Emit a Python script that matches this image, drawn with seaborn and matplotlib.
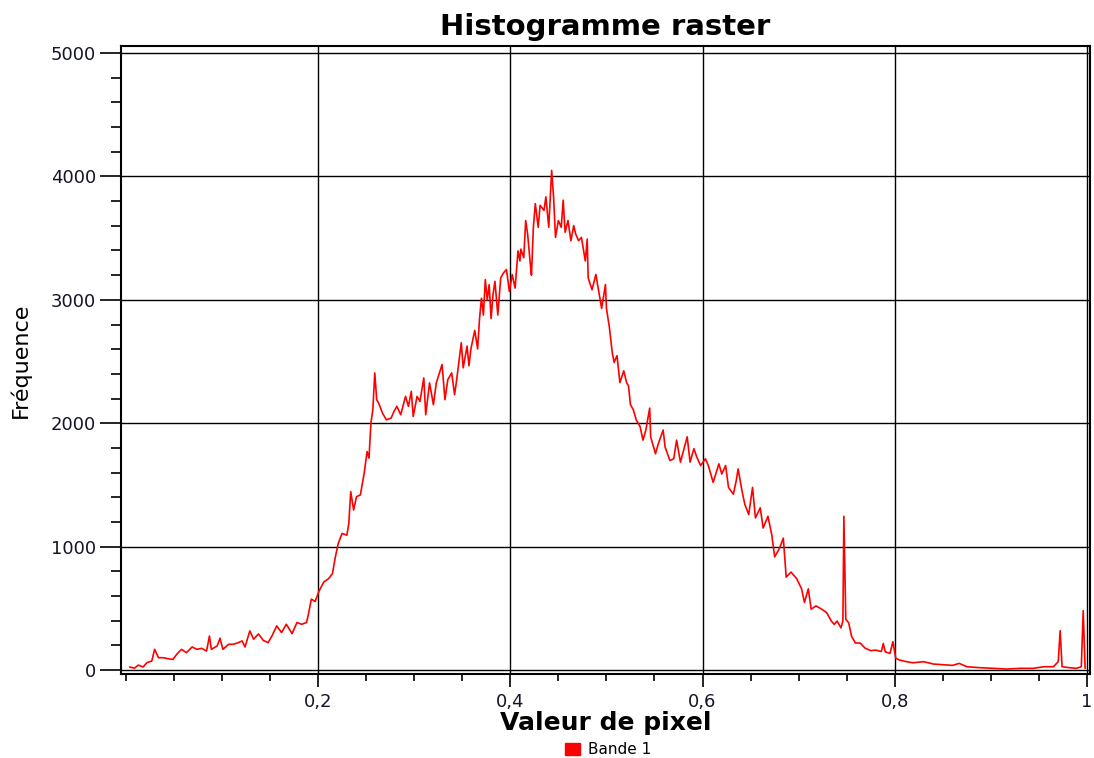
import numpy as np
import pandas as pd
import matplotlib
matplotlib.use("Agg")
import matplotlib.pyplot as plt
import seaborn as sns
from matplotlib.ticker import MultipleLocator, FixedLocator

# valeurs (valeur de pixel / fréquence)
valeur = [0.004, 0.009, 0.013, 0.018, 0.022, 0.027, 0.030, 0.034, 0.039, 0.044,
          0.049, 0.053, 0.058, 0.063, 0.069, 0.074, 0.079, 0.084, 0.087, 0.089,
          0.095, 0.098, 0.101, 0.107, 0.112, 0.117, 0.121, 0.124, 0.129, 0.133,
          0.138, 0.143, 0.148, 0.152, 0.157, 0.162, 0.167, 0.173, 0.178, 0.183,
          0.188, 0.190, 0.193, 0.197,
          0.201, 0.206, 0.211, 0.215, 0.218, 0.221, 0.225, 0.230, 0.232, 0.234,
          0.237, 0.240, 0.244, 0.248, 0.251, 0.253, 0.255, 0.257, 0.259, 0.261,
          0.263, 0.267, 0.271, 0.276, 0.279, 0.282, 0.286, 0.291, 0.294, 0.297,
          0.299, 0.303, 0.306, 0.310, 0.312, 0.316, 0.320, 0.323, 0.329, 0.332,
          0.335, 0.339, 0.342, 0.344, 0.349, 0.351, 0.355,
          0.357, 0.359, 0.363, 0.366, 0.368, 0.370, 0.372, 0.374, 0.376, 0.378,
          0.380, 0.382, 0.384, 0.387, 0.390, 0.393, 0.396, 0.399, 0.402, 0.405,
          0.408, 0.410, 0.411, 0.414, 0.416, 0.418, 0.421, 0.422, 0.424, 0.426,
          0.429, 0.431, 0.435, 0.437, 0.440, 0.442, 0.443, 0.445, 0.447, 0.450,
          0.453, 0.455, 0.457, 0.460, 0.463, 0.466, 0.468, 0.471, 0.474, 0.478,
          0.480, 0.481, 0.485, 0.489, 0.492, 0.495, 0.499, 0.500, 0.503, 0.506,
          0.508, 0.511, 0.514, 0.518, 0.521, 0.523, 0.525, 0.528, 0.531, 0.535,
          0.538, 0.541, 0.545, 0.546, 0.551, 0.554, 0.559, 0.561, 0.566, 0.570,
          0.573, 0.577, 0.584, 0.587, 0.591, 0.594, 0.598, 0.603, 0.606, 0.611,
          0.617, 0.620, 0.624, 0.627, 0.632, 0.635, 0.637, 0.641, 0.644, 0.648,
          0.652, 0.655, 0.660, 0.663, 0.668, 0.672, 0.675, 0.680, 0.684, 0.687,
          0.692, 0.698, 0.703, 0.706, 0.710, 0.713, 0.718, 0.724, 0.729, 0.734,
          0.737, 0.740, 0.744, 0.746, 0.747, 0.749, 0.752, 0.755, 0.759, 0.764,
          0.769, 0.775, 0.780, 0.786, 0.788, 0.790, 0.795, 0.798, 0.801, 0.805,
          0.812, 0.819, 0.830, 0.840, 0.854, 0.860, 0.867, 0.875, 0.889, 0.903,
          0.916, 0.930, 0.944, 0.955, 0.965, 0.970, 0.972, 0.974, 0.982, 0.989,
          0.994, 0.996, 0.998]

frequence = [25, 15, 40, 25, 60, 73, 168, 100, 100, 92,
             86, 128, 168, 141, 187, 168, 176, 154, 276, 168,
             195, 258, 168, 209, 209, 222, 236, 187, 317, 250,
             293, 241, 222, 276, 358, 304, 371, 295, 385, 371,
             385, 453, 575, 556,
             640, 714, 741, 782, 917, 1026, 1107, 1093, 1189, 1446,
             1297, 1405, 1419, 1595, 1771, 1717, 2002, 2110, 2408, 2191,
             2164, 2083, 2028, 2042, 2096, 2137, 2069, 2218, 2137, 2259,
             2055, 2218, 2177, 2367, 2069, 2327, 2150, 2327, 2476, 2191,
             2354, 2408, 2232, 2340, 2652, 2449, 2625,
             2466, 2602, 2753, 2602, 2849, 3013, 2877, 3164, 3000, 3123,
             2849, 3041, 3150, 2877, 3178, 3219, 3246, 3068, 3205, 3095,
             3397, 3315, 3411, 3342, 3643, 3534, 3274, 3200, 3588, 3780,
             3588, 3766, 3725, 3835, 3588, 3890, 4049, 3835, 3506, 3643,
             3588, 3808, 3548, 3643, 3479, 3602, 3534, 3479, 3506, 3315,
             3493, 3178, 3082, 3206, 3068, 2931, 3124, 2931, 2781, 2575,
             2493, 2548, 2329, 2425, 2329, 2301, 2150, 2109, 2027, 1973,
             1863, 1945, 2123, 1890, 1753, 1835, 1945, 1808, 1698, 1712,
             1863, 1685, 1890, 1685, 1794, 1726, 1657, 1712, 1657, 1521,
             1671, 1589, 1657, 1480, 1425, 1534, 1630, 1452, 1342, 1260,
             1480, 1233, 1315, 1151, 1246, 1096, 917, 986, 1069, 753,
             794, 740, 658, 548, 658, 493, 520, 493, 466, 397,
             370, 397, 342, 397, 1246, 411, 383, 274, 219, 219,
             178, 157, 162, 150, 216, 148, 135, 230, 95, 81,
             68, 59, 68, 49, 41, 38, 54, 27, 19, 14,
             8, 14, 14, 27, 27, 68, 319, 27, 19, 14,
             27, 481, 14]

x_ticks = [0.2, 0.4, 0.6, 0.8, 1.0]
x_labels = ["0,2", "0,4", "0,6", "0,8", "1"]
y_ticks = [0, 1000, 2000, 3000, 4000, 5000]

df = pd.DataFrame({"valeur": valeur, "frequence": frequence, "bande": "Bande 1"})

sns.set_style("white")
plt.rcParams["font.family"] = ["DejaVu Sans"]
plt.rcParams["text.color"] = "black"
plt.rcParams["axes.labelcolor"] = "black"

fig = plt.figure(figsize=(10.94, 7.58), dpi=100)
ax = fig.add_axes([0.1106, 0.1108, 0.8857, 0.8285])

sns.lineplot(data=df, x="valeur", y="frequence", hue="bande", palette=["#ff0000"],
             estimator=None, sort=False, linewidth=1.2, ax=ax, legend=False)

ax.set_xlim(-0.005, 1.003)
ax.set_ylim(-32, 5057)

ax.xaxis.set_major_locator(FixedLocator(x_ticks))
ax.set_xticklabels(x_labels)
ax.xaxis.set_minor_locator(MultipleLocator(0.05))
ax.yaxis.set_major_locator(FixedLocator(y_ticks))
ax.yaxis.set_minor_locator(MultipleLocator(200))

txt = "#14142a"
ax.tick_params(axis="y", which="major", length=15, width=1.2, color="black",
               labelsize=13, labelcolor=txt, pad=3, left=True)
ax.tick_params(axis="y", which="minor", length=7, width=1.2, color="black", left=True)
ax.tick_params(axis="x", which="major", length=9, width=1.2, color="black",
               labelsize=13, labelcolor=txt, pad=5, bottom=True)
ax.tick_params(axis="x", which="minor", length=5, width=1.2, color="black", bottom=True)

ax.grid(True, which="major", color="black", linewidth=1.0)
for s in ax.spines.values():
    s.set_color("black")
    s.set_linewidth(1.5)

ax.set_title("Histogramme raster", fontsize=21, fontweight="bold", pad=8, color="black")
ax.set_xlabel("Valeur de pixel", fontsize=18, fontweight="bold", labelpad=0)
ax.set_ylabel("Fréquence", fontsize=16, labelpad=14)

handle = plt.Rectangle((0, 0), 1, 1, color="#ff0000")
fig.legend([handle], ["Bande 1"], loc="center", bbox_to_anchor=(0.556, 0.011),
           frameon=False, fontsize=11, handlelength=1.0, handleheight=0.8,
           handletextpad=0.5)

fig.savefig("out.png", dpi=100)
